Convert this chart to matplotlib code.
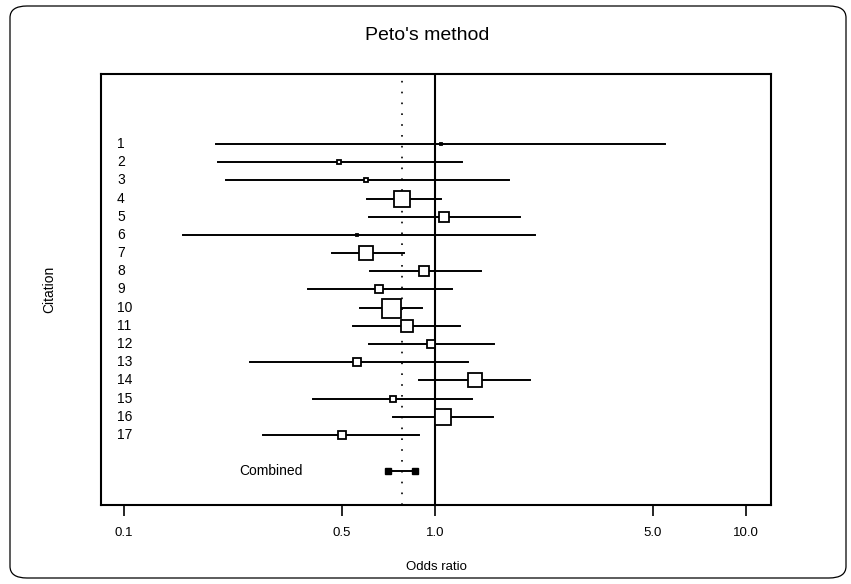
import numpy as np
import matplotlib
matplotlib.use("Agg")
import matplotlib.pyplot as plt
from matplotlib.patches import FancyBboxPatch

plt.rcParams['font.family'] = ['Liberation Sans', 'DejaVu Sans']

# study data (odds ratio, 95% CI, relative weight %)
citations = [str(i) for i in range(1, 18)]
odds_ratio = [1.04, 0.49, 0.60, 0.78, 1.07, 0.56, 0.60, 0.92, 0.66, 0.72,
              0.81, 0.97, 0.56, 1.34, 0.73, 1.06, 0.50]
ci_low = [0.197, 0.20, 0.212, 0.604, 0.612, 0.155, 0.465, 0.617, 0.389, 0.573,
          0.544, 0.612, 0.253, 0.888, 0.404, 0.732, 0.279]
ci_high = [5.48, 1.22, 1.73, 1.04, 1.87, 2.09, 0.794, 1.40, 1.13, 0.908,
           1.20, 1.54, 1.27, 2.01, 1.31, 1.53, 0.888]
weights = [0.3, 0.5, 0.5, 13.6, 4.3, 0.3, 10.4, 6.0, 4.0, 18.0,
           7.6, 4.0, 2.6, 9.0, 2.4, 11.9, 3.0]

combined_or = 0.78
combined_low = 0.705
combined_high = 0.862

xticks = [0.1, 0.5, 1.0, 5.0, 10.0]
xtick_labels = ['0.1', '0.5', '1.0', '5.0', '10.0']

fig = plt.figure(figsize=(8.51, 5.84), dpi=100)

# rounded frame around the whole graph
frame = FancyBboxPatch((10 / 851, 6 / 584), 836 / 851, 572 / 584,
                       boxstyle="round,pad=0,rounding_size=0.02",
                       transform=fig.transFigure, fill=False,
                       edgecolor='black', linewidth=0.9)
fig.patches.append(frame)

ax = fig.add_axes([101 / 851, 1 - 505 / 584, 670 / 851, 431 / 584])
ax.set_xscale('log')
ax.set_xlim(0.0843, 12.0)
ax.set_ylim(20.85, -2.85)

rows = np.arange(1, len(citations) + 1)

# reference lines
ax.axvline(1.0, color='black', linewidth=1.5, zorder=1)
ax.axvline(combined_or, color='black', linewidth=1.2,
           linestyle=(0, (1, 5.5)), zorder=1)

for y, o, lo, hi, w in zip(rows, odds_ratio, ci_low, ci_high, weights):
    ax.plot([lo, hi], [y, y], color='black', linewidth=1.4, zorder=2)
    side = 19 * np.sqrt(w / 18.0) * 0.72
    ax.plot(o, y, marker='s', markersize=side, markerfacecolor='white',
            markeredgecolor='black', markeredgewidth=1.3, zorder=3)

# combined estimate
ycomb = len(citations) + 2
ax.plot([combined_low, combined_high], [ycomb, ycomb], color='black',
        linewidth=1.4, zorder=2)
ax.plot([combined_low, combined_high], [ycomb, ycomb], linestyle='none',
        marker='s', markersize=4.5, color='black', zorder=3)
ax.text(0.296, ycomb, 'Combined', fontsize=10, ha='center', va='center')

for y, lab in zip(rows, citations):
    ax.text(0.024, y, lab, transform=ax.get_yaxis_transform(),
            fontsize=10, ha='left', va='center')

ax.set_yticks([])
ax.set_xticks(xticks)
ax.set_xticklabels(xtick_labels, fontsize=9.5)
ax.minorticks_off()
ax.tick_params(axis='x', direction='out', length=8, width=1.2, pad=8)
for s in ax.spines.values():
    s.set_linewidth(1.5)

ax.set_xlabel('Odds ratio', fontsize=9.5, labelpad=16)
ax.set_ylabel('Citation', fontsize=10, labelpad=32)
fig.text(427 / 851, 1 - 35 / 584, "Peto's method", fontsize=14,
         ha='center', va='center')

fig.savefig('out.png', dpi=100)
